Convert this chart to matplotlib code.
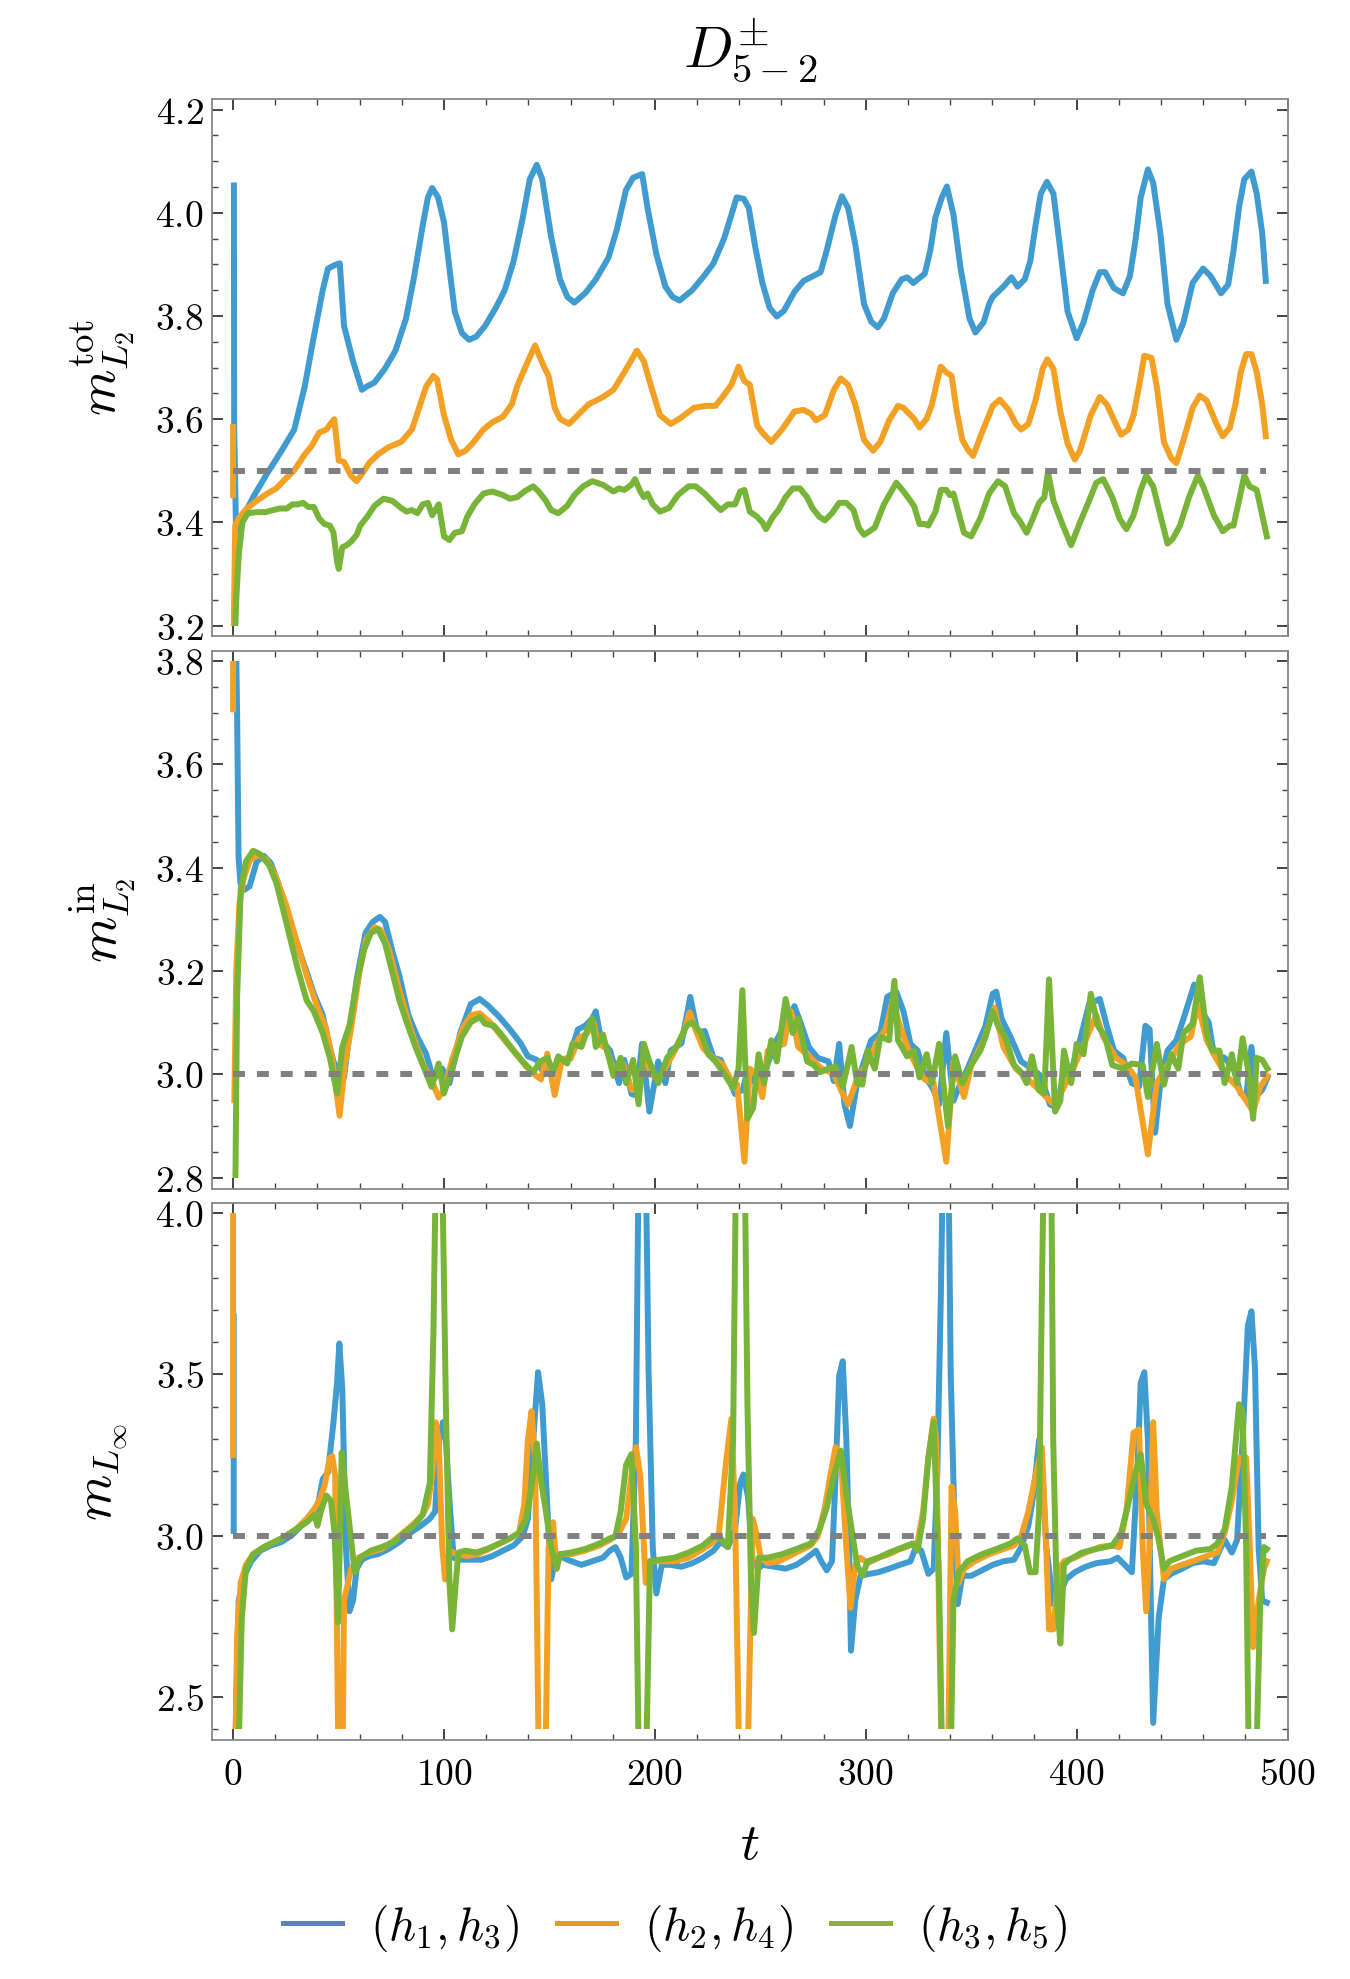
import numpy as np
import matplotlib
matplotlib.use('Agg')
import matplotlib.pyplot as plt
from matplotlib.patches import Rectangle
from matplotlib.lines import Line2D
from matplotlib.ticker import MultipleLocator, FuncFormatter

plt.rcParams['mathtext.fontset'] = 'cm'
plt.rcParams['font.family'] = ['DejaVu Serif']

nan = np.nan

# colours: lines and legend swatches
line_colors = ['#409bd0', '#f3a124', '#78b437']
legend_colors = ['#5e81b5', '#e19c24', '#8fb032']
series_labels = [r'$(h_1, h_3)$', r'$(h_2, h_4)$', r'$(h_3, h_5)$']

# ---- panel 1 : m^tot_L2  (t, value) ----
p1_blue = [(0.4, 4.053), (0.5, 3.59), (1.5, 3.36), (3.5, 3.40), (6.5, 3.425), (9.5, 3.449), (16, 3.494),
           (23, 3.539), (29, 3.58), (34, 3.664), (38, 3.754), (42.5, 3.85), (45, 3.892), (48.4, 3.899),
           (50.6, 3.902), (52.6, 3.781), (56.9, 3.712), (61.1, 3.657), (63.6, 3.664), (67, 3.671),
           (72, 3.698), (77, 3.733), (82, 3.795), (85.6, 3.871), (89.9, 3.975), (92.4, 4.03), (94.4, 4.048),
           (97.2, 4.03), (100, 3.982), (102.6, 3.892), (105.1, 3.809), (108.5, 3.767), (111.9, 3.754),
           (115.3, 3.76), (119.5, 3.781), (124.6, 3.816), (128.8, 3.85), (133, 3.906), (137.3, 3.989),
           (140.7, 4.065), (144, 4.093), (146.6, 4.065), (150.8, 3.954), (155, 3.871), (158.5, 3.837),
           (161.8, 3.826), (166.9, 3.844), (172, 3.871), (178, 3.913), (182, 3.968), (186.3, 4.044),
           (189.7, 4.068), (194, 4.075), (196.5, 4.01), (200.7, 3.92), (205, 3.857), (208.4, 3.837),
           (211.7, 3.83), (217.7, 3.85), (222.8, 3.875), (227.8, 3.902), (232.9, 3.951), (236.3, 3.996),
           (238.8, 4.03), (242.2, 4.027), (244.5, 4.01), (247.6, 3.934), (251, 3.864), (254.4, 3.816),
           (257.8, 3.799), (261.2, 3.81), (266.2, 3.847), (270.5, 3.868), (273.9, 3.875), (278.6, 3.885),
           (281.5, 3.927), (285.7, 3.996), (288.7, 4.032), (291.6, 4.01), (295, 3.94), (299.2, 3.823),
           (302.6, 3.789), (305.7, 3.778), (308.6, 3.795), (312.8, 3.844), (317, 3.871), (319.6, 3.875),
           (322.6, 3.864), (324.6, 3.871), (328, 3.882), (330.6, 3.927), (333.1, 3.992), (336.1, 4.03),
           (338.5, 4.051), (341.6, 3.996), (345, 3.892), (349.2, 3.795), (352, 3.768), (355.9, 3.788),
           (358.5, 3.823), (360.2, 3.837), (365.3, 3.857), (369.1, 3.875), (372, 3.857), (375.4, 3.871),
           (378, 3.906), (380.5, 3.975), (383, 4.037), (385.9, 4.06), (389, 4.037), (392.3, 3.927),
           (395.7, 3.809), (400, 3.757), (403.3, 3.788), (407.6, 3.85), (411, 3.885), (413.5, 3.885),
           (417.7, 3.854), (422, 3.844), (425.3, 3.878), (427.9, 3.947), (430.4, 4.03), (433.8, 4.084),
           (436.3, 4.058), (439.7, 3.961), (443.1, 3.823), (447.3, 3.754), (450.7, 3.788), (455, 3.864),
           (460, 3.892), (463.4, 3.878), (468.5, 3.844), (471.9, 3.861), (474.4, 3.927), (477, 4.01),
           (479.5, 4.065), (482.9, 4.08), (485.4, 4.037), (488, 3.961), (489.7, 3.868)]

p1_orange = [(0, 3.585), (0, 3.453), (nan, nan), (0.3, 3.19), (1, 3.394), (2.7, 3.408), (6, 3.425),
             (11.2, 3.442), (16.2, 3.456), (20.5, 3.466), (24.7, 3.484), (29, 3.501), (34, 3.532),
             (37.4, 3.549), (40.8, 3.574), (44.2, 3.58), (46.7, 3.594), (48, 3.6), (50.1, 3.52),
             (52.6, 3.517), (56, 3.49), (58.6, 3.48), (61.1, 3.494), (64.5, 3.515), (68.7, 3.532),
             (73.8, 3.546), (79.7, 3.556), (84.8, 3.58), (88.2, 3.622), (91.6, 3.664), (95, 3.684),
             (96.7, 3.677), (100, 3.608), (103.4, 3.56), (106.8, 3.532), (110.2, 3.539), (113.5, 3.553),
             (118.7, 3.58), (122.9, 3.594), (128, 3.605), (132.2, 3.629), (134.7, 3.664), (139, 3.705),
             (143.2, 3.743), (144.9, 3.726), (147.4, 3.702), (149.6, 3.684), (152.5, 3.622), (155, 3.601),
             (159.3, 3.591), (162.7, 3.605), (168.6, 3.629), (175.4, 3.643), (180.4, 3.657), (185.5, 3.691),
             (191.5, 3.733), (194.8, 3.712), (198.2, 3.664), (202.4, 3.608), (207.5, 3.591), (211.7, 3.601),
             (218.5, 3.622), (224.4, 3.626), (228.7, 3.626), (232.1, 3.643), (236.3, 3.667), (239.7, 3.702),
             (241.4, 3.684), (242.5, 3.674), (245, 3.667), (248.5, 3.588), (251, 3.574), (255.2, 3.556),
             (260.3, 3.58), (266.2, 3.615), (270.5, 3.618), (273.9, 3.611), (276.4, 3.598), (280.6, 3.608),
             (284.9, 3.657), (288.2, 3.679), (291.6, 3.667), (295, 3.629), (299.2, 3.56), (303.5, 3.539),
             (306.9, 3.556), (311.1, 3.598), (315.3, 3.626), (317.9, 3.622), (322.9, 3.601), (325.5, 3.584),
             (328.9, 3.601), (331.4, 3.629), (333.9, 3.674), (335.6, 3.702), (338.2, 3.691), (340.7, 3.684),
             (343.2, 3.615), (345.8, 3.56), (348.3, 3.542), (350.9, 3.529), (355.1, 3.574), (360.2, 3.626),
             (363.6, 3.638), (367.8, 3.618), (371.2, 3.591), (373.7, 3.58), (377.1, 3.591), (380.5, 3.636),
             (383.9, 3.698), (386.1, 3.716), (389, 3.698), (392.3, 3.615), (395.7, 3.553), (399.1, 3.522),
             (401.6, 3.539), (406.7, 3.608), (411, 3.643), (414.3, 3.629), (418.6, 3.591), (421.1, 3.57),
             (424.5, 3.58), (427, 3.608), (429.6, 3.664), (432.1, 3.723), (435.5, 3.719), (438, 3.664),
             (441.4, 3.556), (444.8, 3.525), (447.3, 3.515), (450.7, 3.56), (455, 3.622), (458.4, 3.646),
             (461.7, 3.636), (466, 3.594), (469.3, 3.567), (472.7, 3.584), (475.3, 3.629), (477.8, 3.691),
             (480.4, 3.726), (482.9, 3.726), (485.4, 3.691), (488, 3.629), (489.7, 3.567)]

p1_green = [(1, 3.19), (1.5, 3.25), (2.7, 3.338), (4.4, 3.4), (7, 3.418), (11.2, 3.42), (15.4, 3.42),
            (18, 3.423), (22, 3.427), (25.6, 3.427), (28, 3.435), (30.6, 3.435), (33.2, 3.438), (35.7, 3.43),
            (38.3, 3.43), (40.8, 3.408), (43.3, 3.397), (45.9, 3.394), (47.6, 3.38), (49.3, 3.324),
            (50.1, 3.31), (51.8, 3.352), (53.5, 3.355), (56, 3.363), (58.6, 3.376), (60.3, 3.394),
            (63.6, 3.411), (67, 3.432), (71.3, 3.446), (75.5, 3.442), (79.7, 3.428), (82.3, 3.421),
            (84.8, 3.424), (87.4, 3.418), (89.9, 3.435), (92.4, 3.438), (94.4, 3.414), (97.5, 3.435),
            (100, 3.373), (102.6, 3.366), (105.1, 3.38), (108.5, 3.383), (111, 3.411), (114.4, 3.435),
            (118.7, 3.456), (122.9, 3.46), (128, 3.453), (131.3, 3.446), (134.7, 3.449), (138.1, 3.46),
            (142.3, 3.47), (144.9, 3.46), (148.3, 3.442), (150.8, 3.424), (154.2, 3.418), (158.4, 3.432),
            (161.8, 3.453), (166, 3.47), (170.3, 3.48), (175.3, 3.473), (180.4, 3.46), (183, 3.466),
            (185.5, 3.463), (188.9, 3.473), (190.6, 3.484), (193.1, 3.46), (194.8, 3.449), (196.5, 3.456),
            (199, 3.435), (202.4, 3.421), (206.7, 3.428), (210.9, 3.453), (216, 3.47), (219.4, 3.47),
            (223.6, 3.456), (227.8, 3.438), (231.2, 3.424), (234.6, 3.435), (238, 3.435), (240.5, 3.46),
            (242.5, 3.463), (245, 3.421), (248.5, 3.411), (251, 3.4), (252.7, 3.387), (256, 3.411),
            (258.6, 3.424), (262, 3.449), (265.4, 3.466), (268.8, 3.466), (272.2, 3.449), (274.7, 3.428),
            (278, 3.411), (280.6, 3.404), (284, 3.418), (287.4, 3.438), (290.8, 3.438), (294.2, 3.424),
            (296.7, 3.39), (299.2, 3.376), (301.8, 3.383), (304.3, 3.39), (308.6, 3.435), (314.5, 3.477),
            (318.7, 3.456), (322.9, 3.432), (325.5, 3.397), (328, 3.397), (329.7, 3.394), (333.1, 3.421),
            (335.6, 3.463), (338.2, 3.463), (339.9, 3.453), (341.6, 3.456), (344.1, 3.418), (346.6, 3.38),
            (350, 3.373), (354.3, 3.408), (358.5, 3.456), (362.7, 3.48), (366.1, 3.47), (370.3, 3.418),
            (372.9, 3.404), (376.3, 3.38), (379.6, 3.411), (382.2, 3.438), (384.7, 3.449), (386.4, 3.498),
            (389, 3.442), (393.2, 3.397), (397.4, 3.356), (401.6, 3.4), (405.9, 3.442), (409.3, 3.477),
            (412.6, 3.484), (416.9, 3.449), (420.3, 3.408), (423.6, 3.387), (427, 3.414), (430.4, 3.463),
            (433, 3.491), (436.3, 3.47), (439.7, 3.414), (443.1, 3.359), (445.7, 3.369), (449, 3.394),
            (453.3, 3.449), (457.5, 3.491), (460, 3.47), (465.1, 3.414), (469.3, 3.383), (472.7, 3.394),
            (474.4, 3.394), (477, 3.442), (479.5, 3.491), (482, 3.47), (485.4, 3.463), (488, 3.414),
            (490.2, 3.373)]

# ---- panel 2 : m^in_L2 ----
p2_blue = [(1.0, 3.95), (1.9, 3.7), (2.6, 3.42), (3.5, 3.37), (5.2, 3.357), (7.8, 3.364), (11.2, 3.412),
           (14.6, 3.423), (17.9, 3.409), (21.3, 3.371), (24.7, 3.329), (28.1, 3.281), (31.5, 3.239),
           (34.9, 3.198), (38.3, 3.156), (42.5, 3.115), (45, 3.067), (47.6, 3.025), (50.1, 3.004),
           (52.6, 2.994), (55.2, 3.08), (58.6, 3.184), (62.8, 3.274), (66.2, 3.295), (69.6, 3.305),
           (72.1, 3.295), (75.5, 3.239), (78.9, 3.19), (83.1, 3.115), (87.3, 3.073), (91.6, 3.039),
           (95, 2.99), (99.2, 3.011), (102.6, 2.983), (107.7, 3.08), (112.7, 3.136), (117, 3.146),
           (121.2, 3.132), (126.3, 3.111), (131.3, 3.087), (136.4, 3.06), (139.8, 3.035), (144, 3.028),
           (147.4, 3.001), (150.8, 3.011), (155, 3.028), (159.3, 3.032), (163.5, 3.087), (166.9, 3.094),
           (170.3, 3.108), (172, 3.122), (174.5, 3.066), (178.8, 3.046), (183, 2.983), (185.5, 3.028),
           (188.9, 2.962), (191.4, 2.959), (193.9, 3.059), (197.4, 2.928), (201.6, 3.025), (205, 2.983),
           (207.5, 3.046), (212.6, 3.06), (216.8, 3.15), (220.2, 3.08), (223.6, 3.084), (227.8, 3.032),
           (231.2, 3.028), (234.6, 2.997), (238, 2.962), (241.7, 2.97), (244.2, 3.011), (248.5, 2.976),
           (252.7, 3.011), (256.9, 3.059), (261.2, 3.094), (266.2, 3.132), (269.6, 3.094), (273, 3.053),
           (277.2, 3.032), (282.3, 3.025), (284.9, 2.987), (287.4, 3.059), (289.9, 2.942), (292.5, 2.9),
           (295.9, 2.983), (299.2, 3.025), (302.6, 3.066), (306.9, 3.08), (310.2, 3.15), (314.5, 3.16),
           (317.9, 3.122), (321.2, 3.059), (324.6, 3.046), (328, 2.997), (332.2, 2.97), (334.8, 2.942),
           (338.2, 3.08), (341.6, 2.949), (345, 2.983), (348.3, 3.011), (352.6, 3.053), (356.8, 3.094),
           (360.2, 3.156), (361.9, 3.16), (364.4, 3.108), (368.6, 3.073), (373.7, 3.025), (378.8, 3.011),
           (383, 2.997), (387.3, 2.942), (390.6, 2.935), (394, 3.004), (398.3, 3.018), (401.6, 3.066),
           (405.9, 3.136), (411, 3.146), (414.3, 3.094), (417.7, 3.046), (422, 3.032), (426.2, 2.983),
           (429.6, 2.976), (432.6, 3.094), (434.6, 3.087), (437.2, 2.887), (439.7, 2.983), (443.1, 3.046),
           (447.3, 3.066), (450.7, 3.108), (455.8, 3.174), (459.2, 3.122), (462.6, 3.101), (465.1, 3.039),
           (470.2, 3.032), (474.4, 3.011), (477.8, 2.963), (480.4, 2.956), (482.9, 3.053), (485.4, 2.959),
           (488, 2.97), (490.5, 2.994)]

p2_orange = [(0, 3.82), (0, 3.707), (nan, nan), (0.6, 2.95), (1.5, 3.2), (3, 3.33), (5, 3.38), (8, 3.415),
             (12, 3.425), (16, 3.415), (20, 3.385), (25, 3.33), (30, 3.26), (35, 3.19), (40, 3.13),
             (44, 3.09), (47, 3.03), (50.5, 2.92), (53, 3.02), (56, 3.09), (60, 3.2), (63, 3.26),
             (67, 3.285), (70, 3.28), (74, 3.24), (79, 3.16), (84, 3.09), (90, 3.02), (94, 2.99),
             (97.5, 2.955), (100, 2.97), (104, 3.03), (109, 3.09), (113, 3.115), (117, 3.118), (122, 3.1),
             (128, 3.07), (134, 3.04), (139, 3.015), (143, 3.0), (146, 2.99), (149, 3.04), (152.5, 2.96),
             (156, 3.03), (160, 3.03), (164, 3.07), (168, 3.08), (171, 3.1), (173, 3.06), (177, 3.05),
             (181, 3.0), (185, 3.02), (189, 2.97), (192, 2.97), (195, 3.04), (198, 3.0), (202, 2.99),
             (206, 3.02), (210, 3.05), (214, 3.085), (216.5, 3.12), (219, 3.09), (223, 3.05), (228, 3.03),
             (232, 3.02), (236, 2.99), (239, 2.98), (242.5, 2.831), (245, 3.011), (248, 3.0), (251, 2.956),
             (253.5, 3.046), (257, 3.053), (261.2, 3.059), (264.5, 3.122), (268, 3.053), (273.9, 3.032),
             (279, 3.011), (284.9, 3.001), (289, 2.963), (291.6, 2.942), (295.9, 2.99), (301, 3.025),
             (306, 3.066), (309.4, 3.087), (312.8, 3.143), (316.2, 3.094), (320.4, 3.046), (323.8, 3.018),
             (328, 2.99), (332.2, 2.983), (338.2, 2.831), (341.6, 3.025), (346.6, 2.956), (350, 3.018),
             (356, 3.066), (361, 3.129), (365.3, 3.053), (371.2, 3.011), (377.1, 2.99), (383.9, 2.963),
             (389, 2.942), (393.2, 2.969), (399.1, 3.018), (404.2, 3.066), (409.3, 3.115), (412.6, 3.073),
             (418.6, 3.032), (423.6, 3.018), (427.9, 2.994), (433.8, 2.845), (438, 2.983), (443.1, 3.018),
             (449, 3.059), (454.1, 3.073), (457.5, 3.136), (461.7, 3.066), (466, 3.032), (471, 2.997),
             (476.1, 2.976), (480.4, 2.949), (483.7, 2.928), (487.1, 2.976), (490.5, 2.997)]

p2_green = [(1, 2.75), (1.9, 3.15), (3.6, 3.357), (6.1, 3.412), (9.5, 3.433), (12.9, 3.426), (17.1, 3.405),
            (20.5, 3.371), (23.9, 3.316), (27.3, 3.26), (30.6, 3.205), (34.9, 3.143), (38.3, 3.122),
            (42.5, 3.08), (45.9, 3.032), (49.3, 2.963), (51.8, 3.053), (55.2, 3.095), (58.6, 3.178),
            (62, 3.24), (65.3, 3.274), (68.7, 3.281), (72.1, 3.253), (75.5, 3.198), (78.9, 3.143),
            (82.3, 3.101), (86.5, 3.053), (90.7, 3.011), (94.1, 2.976), (97.5, 3.021), (100, 2.963),
            (104.3, 3.018), (108.5, 3.073), (112.7, 3.101), (117, 3.111), (119.5, 3.098), (123.7, 3.094),
            (128, 3.073), (133, 3.046), (137.3, 3.025), (142.3, 3.004), (145.7, 3.025), (149.1, 3.032),
            (151.7, 3.004), (154.2, 3.035), (158.4, 3.021), (161, 3.06), (165.2, 3.053), (168.6, 3.094),
            (170.3, 3.108), (172, 3.053), (175.4, 3.077), (180.4, 2.997), (183.8, 3.032), (186.4, 2.983),
            (189.7, 3.028), (192.3, 2.942), (194.8, 3.059), (197.4, 3.025), (201.6, 2.983), (205.8, 3.032),
            (210.1, 3.053), (215.1, 3.094), (217.7, 3.101), (221.9, 3.08), (225.3, 3.039), (228.7, 3.025),
            (232.9, 3.001), (237.1, 2.973), (239.7, 3.011), (241.5, 3.163), (243.9, 2.914), (246.6, 2.935),
            (249.2, 3.039), (251.8, 2.983), (255.2, 3.066), (257.8, 3.025), (262, 3.146), (265.4, 3.08),
            (267.9, 3.108), (272.2, 3.025), (275.5, 3.018), (278.1, 3.004), (282.3, 3.011), (285.7, 3.015),
            (289.1, 2.976), (293.3, 3.053), (295.9, 2.983), (298.4, 2.98), (300.9, 3.046), (304.3, 3.011),
            (306.9, 3.073), (311.1, 3.066), (313.6, 3.181), (315.3, 3.066), (319.6, 3.035), (322.9, 3.046),
            (325.5, 2.994), (328.9, 3.039), (331.4, 2.983), (334.8, 3.059), (339, 2.9), (342.4, 3.035),
            (345.8, 2.983), (350, 3.018), (354.3, 3.046), (356.8, 3.073), (360.2, 3.122), (362.7, 3.094),
            (366.1, 3.073), (370.3, 3.018), (373.7, 3.004), (376.3, 2.983), (378.8, 3.035), (382.2, 2.969),
            (384.7, 2.963), (386.9, 3.184), (389.8, 2.928), (392.3, 2.949), (394, 3.046), (397.4, 2.983),
            (400, 3.059), (403.3, 3.039), (406.7, 3.156), (410.1, 3.094), (413.5, 3.073), (416.9, 3.018),
            (422, 3.011), (426.2, 3.021), (431.3, 3.018), (433.8, 2.956), (438, 3.059), (441.4, 2.98),
            (444.8, 3.039), (448.2, 3.011), (450.7, 3.08), (455, 3.098), (458.4, 3.188), (461.7, 3.08),
            (464.3, 3.046), (467.7, 3.046), (470.2, 2.983), (473.6, 3.039), (476.1, 2.983), (478.7, 3.07),
            (481.2, 3.011), (483.7, 2.914), (485.4, 3.032), (488, 3.028), (490.5, 3.011)]

# ---- panel 3 : m_Linf ----
p3_blue = [(0.3, 3.015), (0.3, 3.68), (nan, nan), (0.8, 2.2), (1.5, 2.5), (2.7, 2.8), (5.2, 2.876),
           (8.6, 2.921), (12.9, 2.954), (17.9, 2.97), (23, 2.981), (28.1, 3.003), (33.2, 3.037),
           (37.4, 3.065), (40, 3.087), (42.5, 3.175), (45, 3.197), (47.6, 3.352), (49.3, 3.474),
           (50.4, 3.596), (51.8, 3.452), (53.5, 2.965), (55.2, 2.766), (56.9, 2.8), (58.6, 2.898),
           (61.1, 2.926), (64.5, 2.937), (68.7, 2.943), (73.8, 2.959), (78.9, 2.981), (84, 3.009),
           (89, 3.031), (93.3, 3.053), (95.8, 3.075), (97.8, 3.297), (99.5, 3.352), (100.9, 3.297),
           (102.6, 3.109), (104.6, 2.932), (107.7, 2.926), (112.7, 2.926), (117.8, 2.926), (122.9, 2.937),
           (128, 2.954), (133, 2.97), (137.3, 2.998), (139.8, 3.053), (142.3, 3.297), (144.6, 3.507),
           (146.6, 3.408), (149.1, 3.076), (150.8, 2.865), (153.4, 2.943), (158.4, 2.926), (165.2, 2.91),
           (170.3, 2.921), (175.4, 2.932), (178.7, 2.954), (181.3, 2.965), (183.8, 2.932), (186.4, 2.871),
           (188.9, 2.882), (191, 3.297), (192.8, 4.5), (195, 4.5), (197, 3.518), (199, 2.965),
           (200.7, 2.821), (203.3, 2.91), (207.5, 2.91), (212.6, 2.904), (217.7, 2.915), (222.8, 2.932),
           (227.8, 2.954), (231.2, 2.981), (234.6, 2.965), (238, 3.02), (240.5, 3.164), (242, 3.19),
           (244.2, 3.12), (246.4, 2.921), (249, 2.898), (251, 2.91), (256.9, 2.904), (262, 2.898),
           (267.1, 2.91), (272.2, 2.932), (276.4, 2.954), (278.9, 2.921), (281.5, 2.893), (284, 2.921),
           (285.7, 3.186), (287.4, 3.496), (289.1, 3.541), (290.8, 3.297), (292.1, 2.965), (293, 2.644),
           (295, 2.799), (297.5, 2.876), (301.8, 2.882), (306, 2.887), (311.1, 2.898), (316.2, 2.91),
           (321.2, 2.921), (323.8, 2.965), (326.3, 2.954), (329.7, 2.882), (332.2, 2.898), (333.9, 3.186),
           (335.6, 3.74), (338.2, 4.8), (340.3, 3.5), (342.4, 2.965), (343.6, 2.788), (345.8, 2.876),
           (350, 2.876), (355.1, 2.893), (360.2, 2.91), (365.3, 2.921), (370.3, 2.926), (373.7, 2.965),
           (377.1, 3.031), (379.6, 3.131), (382.2, 3.297), (383.9, 3.186), (385.6, 2.965), (389, 2.788),
           (392.3, 2.821), (394.9, 2.865), (399.1, 2.887), (404.2, 2.904), (409.3, 2.915), (416, 2.921),
           (419.4, 2.932), (422.8, 2.91), (426.2, 2.887), (428.7, 3.186), (430.4, 3.474), (432.1, 3.507),
           (433.8, 3.297), (435, 2.854), (436.3, 2.42), (438.9, 2.744), (441.4, 2.865), (444.8, 2.882),
           (450, 2.898), (455, 2.915), (460, 2.921), (465.1, 2.915), (467.7, 2.954), (470.2, 2.987),
           (473.6, 2.948), (476.1, 2.987), (478.7, 3.297), (481.2, 3.651), (482.9, 3.696), (484.6, 3.518),
           (486.3, 2.965), (488, 2.799), (490.2, 2.793)]

p3_orange = [(0, 3.25), (0, 4.3), (nan, nan), (0.8, 2.2), (1.9, 2.688), (3.6, 2.854), (6.1, 2.91),
             (9.5, 2.943), (14.6, 2.965), (19.6, 2.981), (24.7, 2.998), (29.8, 3.02), (34.9, 3.053),
             (38.3, 3.081), (40.8, 3.109), (43.3, 3.153), (45.9, 3.242), (47, 3.247), (48.4, 3.186),
             (50.5, 2.0), (51.5, 2.0), (52.6, 2.8), (56, 2.898), (59.4, 2.932), (64.5, 2.948), (70.4, 2.959),
             (75.5, 2.981), (80.6, 3.009), (85.6, 3.037), (89.9, 3.065), (92.4, 3.098), (94.4, 3.186),
             (96.1, 3.352), (97.5, 3.297), (99.2, 2.965), (100.5, 2.865), (102.6, 2.954), (106, 2.943),
             (111, 2.937), (116.1, 2.943), (121.2, 2.959), (126.3, 2.976), (131.3, 2.992), (135.6, 3.009),
             (138.1, 3.098), (139.8, 3.297), (141.5, 3.386), (143.2, 3.242), (145.5, 2.0), (147.5, 2.0),
             (149.6, 2.965), (151.7, 3.042), (153.4, 2.898), (155, 2.943), (160.1, 2.943), (166.9, 2.954),
             (173.7, 2.97), (178.7, 2.987), (183, 3.009), (186.4, 3.053), (188.9, 3.186), (191, 3.275),
             (193.1, 3.186), (195.7, 2.854), (197.7, 2.921), (202.4, 2.921), (209.2, 2.921), (216, 2.932),
             (222.8, 2.959), (227.8, 2.981), (230.4, 3.009), (233.8, 3.231), (236.3, 3.363), (238, 3.075),
             (240.8, 2.0), (243, 2.0), (246.4, 3.053), (248.1, 3.009), (250.2, 2.932), (253.5, 2.915),
             (258.6, 2.921), (263.7, 2.937), (268.8, 2.954), (273.9, 2.97), (277.2, 2.998), (280.6, 3.087),
             (283.2, 3.186), (285.7, 3.275), (288.2, 3.242), (290.8, 2.965), (292.8, 2.777), (295, 2.91),
             (297.5, 2.932), (300.9, 2.915), (306, 2.932), (311.1, 2.943), (316.2, 2.959), (321.2, 2.97),
             (324.6, 2.981), (327.2, 3.075), (329.7, 3.242), (332.2, 3.363), (333.4, 3.297), (335.1, 2.633),
             (337, 2.0), (338.5, 2.0), (340.7, 3.153), (342.4, 3.075), (344.1, 2.854), (346.6, 2.898),
             (351.7, 2.921), (358.5, 2.943), (365.3, 2.959), (370.3, 2.97), (373.7, 2.998), (377.1, 3.075),
             (380.5, 3.186), (383.5, 3.275), (385.6, 2.965), (386.9, 2.71), (389, 2.71), (391.5, 2.898),
             (394, 2.921), (399.1, 2.932), (404.2, 2.948), (411, 2.965), (416, 2.97), (420.3, 2.965),
             (423.6, 3.075), (427, 3.319), (429.6, 3.33), (431.3, 2.965), (433, 2.766), (434.6, 2.965),
             (436.3, 3.352), (438, 3.075), (441.4, 2.865), (444.8, 2.898), (450, 2.91), (455, 2.921),
             (461.7, 2.937), (466.8, 2.948), (470.2, 3.009), (473.6, 3.109), (477, 3.242), (480.4, 3.242),
             (482.1, 2.965), (483.7, 2.655), (486.3, 2.799), (488.8, 2.898), (490.2, 2.921)]

p3_green = [(2.0, 2.2), (2.7, 2.35), (4.1, 2.744), (6.1, 2.898), (9.5, 2.943), (14.6, 2.965), (19.6, 2.981),
            (24.7, 2.998), (29.8, 3.02), (34.9, 3.042), (38.7, 3.065), (40, 3.031), (41.6, 3.076),
            (44.2, 3.125), (46.4, 3.109), (48.1, 3.009), (49.8, 2.732), (51.5, 3.258), (53.5, 3.131),
            (56, 2.987), (57.7, 2.887), (60.3, 2.932), (65.3, 2.954), (70.4, 2.965), (76.3, 2.981),
            (81.4, 3.009), (85.6, 3.031), (89.9, 3.065), (93.3, 3.164), (95, 3.629), (97.6, 4.8),
            (100.9, 3.408), (102.6, 2.854), (103.9, 2.71), (105.6, 2.854), (106.8, 2.948), (110.2, 2.954),
            (115.3, 2.948), (120.3, 2.959), (126.3, 2.976), (131.3, 2.992), (135.6, 3.009), (139, 3.053),
            (142.3, 3.186), (144, 3.286), (145.7, 3.186), (148.3, 3.076), (150.8, 2.965), (153.4, 2.898),
            (155, 2.943), (160.1, 2.948), (166.9, 2.959), (173.7, 2.976), (178.7, 2.992), (181.3, 2.998),
            (183.8, 3.076), (186.4, 3.22), (188.9, 3.253), (191, 2.965), (193, 2.0), (195, 2.0),
            (197.7, 2.921), (202.4, 2.926), (209.2, 2.932), (216, 2.948), (222.8, 2.97), (227.8, 2.998),
            (231.2, 2.992), (234.6, 2.965), (237.1, 3.297), (239.5, 4.8), (241.5, 4.8), (243.9, 3.408),
            (245.6, 2.854), (247, 2.699), (249.3, 2.932), (253.5, 2.932), (260.3, 2.943), (267.1, 2.959),
            (273.9, 2.976), (278.1, 3.02), (281.5, 3.087), (284.9, 3.186), (288.2, 3.264), (290.8, 3.131),
            (293.3, 3.02), (295.9, 2.91), (298.4, 2.876), (300.9, 2.921), (306, 2.932), (311.1, 2.948),
            (317.9, 2.965), (322.1, 2.976), (324.6, 2.954), (327.2, 3.053), (329.7, 3.242), (332.2, 3.352),
            (334.8, 2.854), (337, 2.0), (339.5, 2.0), (341.6, 2.8), (344.1, 2.887), (348.3, 2.921),
            (355.1, 2.943), (361.9, 2.959), (368.6, 2.976), (372, 2.992), (375.4, 2.97), (377.9, 2.887),
            (380.5, 2.887), (382.2, 3.076), (383.5, 3.74), (385.8, 4.8), (387.3, 4.8), (388.9, 3.297),
            (390.6, 2.8), (392.3, 2.666), (394, 2.91), (396.6, 2.926), (402.5, 2.948), (409.3, 2.959),
            (416.9, 2.97), (421.1, 3.009), (424.5, 3.098), (427.9, 3.197), (430.4, 3.253), (433, 3.098),
            (436.3, 3.053), (438.9, 2.987), (441.4, 2.898), (444, 2.921), (450, 2.937), (456.7, 2.954),
            (463.4, 2.959), (466.8, 2.976), (470.2, 3.02), (473.6, 3.153), (477, 3.408), (478.7, 3.386),
            (480.4, 2.965), (482.2, 2.0), (484, 2.0), (487.1, 2.8), (488.8, 2.965), (490.2, 2.959)]

panel_series = [[p1_blue, p1_orange, p1_green],
                [p2_blue, p2_orange, p2_green],
                [p3_blue, p3_orange, p3_green]]
reference_levels = [3.5, 3.0, 3.0]
plot_ranges = [(3.2, 4.2), (2.8, 3.8), (2.4, 4.0)]
y_limits = [(3.18, 4.2205), (2.778, 3.819), (2.367, 4.031)]
y_major = [np.arange(3.2, 4.21, 0.2), np.arange(2.8, 3.81, 0.2), np.arange(2.5, 4.01, 0.5)]
y_minor = [0.05, 0.05, 0.1]
y_labels = [r'$m^{\mathrm{tot}}_{L_2}$', r'$m^{\mathrm{in}}_{L_2}$', r'$m_{L_\infty}$']
t_end = 490

W, H = 1350, 1979
fig = plt.figure(figsize=(W / 100, H / 100), dpi=100)

# axes boxes in pixels (left, top, right, bottom)
boxes = [(212, 99, 1287.5, 636), (212, 651.4, 1287.5, 1189), (212, 1203.2, 1287.5, 1740)]

for i, (l, t, r, b) in enumerate(boxes):
    ax = fig.add_axes([l / W, 1 - b / H, (r - l) / W, (b - t) / H])
    lo, hi = plot_ranges[i]
    for s, col in zip(panel_series[i], line_colors):
        arr = np.array(s, dtype=float)
        ln, = ax.plot(arr[:, 0], arr[:, 1], color=col, lw=4.3, solid_joinstyle='round', zorder=2)
        clip = Rectangle((-10, lo), 510, hi - lo, transform=ax.transData)
        ln.set_clip_path(clip)
    ax.plot([0, t_end], [reference_levels[i]] * 2, color='#808080', lw=4.3,
            dashes=(2.0, 2.0), zorder=3)

    ax.set_xlim(-10, 500)
    ax.set_ylim(*y_limits[i])
    ax.set_xticks(np.arange(0, 501, 100))
    ax.xaxis.set_minor_locator(MultipleLocator(20))
    ax.set_yticks(y_major[i])
    ax.yaxis.set_minor_locator(MultipleLocator(y_minor[i]))
    ax.yaxis.set_major_formatter(FuncFormatter(lambda v, p: r'$%.1f$' % v))
    ax.xaxis.set_major_formatter(FuncFormatter(lambda v, p: r'$%d$' % round(v)))
    ax.tick_params(which='both', direction='in', top=True, right=True, colors='#444444',
                   labelcolor='black', labelsize=27)
    ax.tick_params(which='major', length=8, width=1.4, pad=6)
    ax.tick_params(which='minor', length=4.5, width=1.0)
    ax.tick_params(axis='x', which='major', pad=12)
    for sp in ax.spines.values():
        sp.set_color('#888888')
        sp.set_linewidth(1.3)
    if i < 2:
        ax.tick_params(axis='x', labelbottom=False)
    fig.text(104 / W, 1 - (t + b) / 2 / H, y_labels[i], rotation=90, ha='center', va='center',
             fontsize=38)

fig.text(750 / W, 1 - 50 / H, r'$D^{\pm}_{5-2}$', ha='center', va='center', fontsize=42)
fig.text(750 / W, 1 - 1845 / H, r'$t$', ha='center', va='center', fontsize=38)

handles = [Line2D([], [], color=c, lw=3.6) for c in legend_colors]
fig.legend(handles, series_labels, loc='center', bbox_to_anchor=(0.5, 1 - 1928 / H), ncol=3,
           frameon=False, fontsize=34, handlelength=1.25, handletextpad=0.6, columnspacing=0.8)

fig.savefig('out.png', dpi=100)
